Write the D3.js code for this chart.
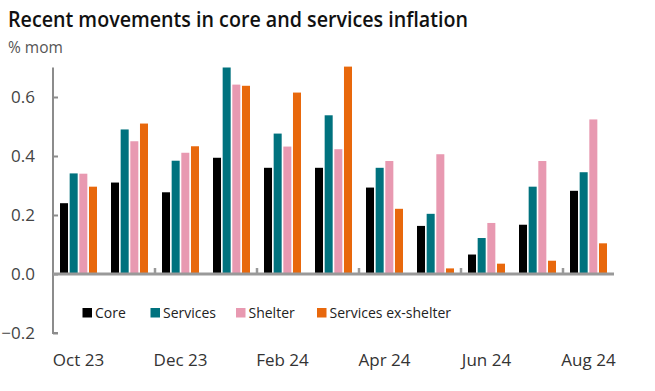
<!DOCTYPE html>
<html>
<head>
<meta charset="utf-8">
<script src="https://cdn.jsdelivr.net/npm/d3@7"></script>
<style>
  html, body { margin: 0; padding: 0; background: #fff; }
  svg { display: block; font-family: "Open Sans", "Noto Sans", sans-serif; }
</style>
</head>
<body>
<svg id="chart" width="655" height="391"></svg>
<script>
const months = ["Oct 23","Nov 23","Dec 23","Jan 24","Feb 24","Mar 24","Apr 24","May 24","Jun 24","Jul 24","Aug 24"];
const seriesNames = ["Core","Services","Shelter","Services ex-shelter"];
const core = [0.24,0.31,0.277,0.394,0.36,0.36,0.293,0.163,0.066,0.167,0.282];
const services = [0.341,0.49,0.384,0.70,0.476,0.538,0.36,0.204,0.122,0.296,0.345];
const shelter = [0.34,0.45,0.411,0.642,0.432,0.423,0.383,0.406,0.173,0.383,0.524];
const servicesExShelter = [0.296,0.51,0.433,0.638,0.615,0.703,0.221,0.019,0.035,0.045,0.104];
const xTickLabels = ["Oct 23","Dec 23","Feb 24","Apr 24","Jun 24","Aug 24"];
const yTicks = [-0.2,0.0,0.2,0.4,0.6];
const colors = ["#000000","#00727e","#e899b1","#e8680c"];

const seriesValues = [core, services, shelter, servicesExShelter];
const table = months.map((m, i) => ({
  month: m,
  values: seriesNames.map((s, j) => ({ series: s, value: seriesValues[j][i] }))
}));

const svg = d3.select("#chart");
svg.append("rect").attr("width",655).attr("height",391).attr("fill","#fff");

const x0 = d3.scaleBand().domain(months).range([53, 614]).padding(0);
const x1 = d3.scaleBand().domain(seriesNames).range([7, 44]).paddingInner(0.17).paddingOuter(0);
const y = d3.scaleLinear().domain([-0.2, 0.7]).range([333, 67.5]);
const color = d3.scaleOrdinal().domain(seriesNames).range(colors);

// Title
svg.append("text").attr("x", 8).attr("y", 27)
  .attr("font-size", 21).attr("font-weight", 600).attr("fill", "#111")
  .attr("textLength", 460).attr("lengthAdjust", "spacingAndGlyphs")
  .text("Recent movements in core and services inflation");
svg.append("text").attr("x", 8).attr("y", 53)
  .attr("font-size", 15.5).attr("fill", "#555")
  .text("% mom");

// Bars
const groups = svg.append("g").selectAll("g").data(table).join("g")
  .attr("transform", d => `translate(${x0(d.month)},0)`);
groups.selectAll("rect").data(d => d.values).join("rect")
  .attr("x", d => x1(d.series))
  .attr("width", x1.bandwidth())
  .attr("y", d => y(Math.max(0, d.value)))
  .attr("height", d => Math.abs(y(d.value) - y(0)))
  .attr("fill", d => color(d.series));

// Y axis
const yAxis = d3.axisLeft(y).tickValues(yTicks).tickFormat(d3.format(".1f"))
  .tickSizeInner(-5).tickSizeOuter(0).tickPadding(18);
const gy = svg.append("g").attr("transform", "translate(53,0)").call(yAxis);
gy.select(".domain").remove();
gy.selectAll(".tick line").attr("stroke", "#8c8c8c").attr("stroke-width", 2);
gy.selectAll(".tick text").attr("font-size", 17).attr("fill", "#444")
  .attr("font-family", "'Open Sans', sans-serif");
svg.append("path")
  .attr("d", `M${53 + 5},${y(-0.2)}H53V${y(0.7)}`)
  .attr("fill", "none").attr("stroke", "#8c8c8c").attr("stroke-width", 2);

// Zero line
svg.append("line")
  .attr("x1", 53).attr("x2", x0.range()[1])
  .attr("y1", y(0)).attr("y2", y(0))
  .attr("stroke", "#999").attr("stroke-width", 3);

// Minor category ticks every two months
const boundaryMonths = months.filter((m, i) => i % 2 === 1 && i < months.length - 1);
svg.append("g").selectAll("line").data(boundaryMonths).join("line")
  .attr("x1", d => x0(d) + x0.bandwidth()).attr("x2", d => x0(d) + x0.bandwidth())
  .attr("y1", y(0) - 6).attr("y2", y(0))
  .attr("stroke", "#999").attr("stroke-width", 2.5);

// X labels
svg.append("g").selectAll("text").data(xTickLabels).join("text")
  .attr("x", d => x0(d) + x0.bandwidth() / 2)
  .attr("y", 366)
  .attr("text-anchor", "middle")
  .attr("font-size", 17).attr("fill", "#333")
  .text(d => d);

// Legend
const legendX = [82.5, 150.5, 236, 317];
const lg = svg.append("g").selectAll("g").data(seriesNames).join("g")
  .attr("transform", (d, i) => `translate(${legendX[i]},308)`);
lg.append("rect").attr("width", 9.5).attr("height", 9.5).attr("fill", d => color(d));
lg.append("text").attr("x", 12.5).attr("y", 9.5)
  .attr("font-size", 14).attr("fill", "#222").text(d => d);
</script>
</body>
</html>
